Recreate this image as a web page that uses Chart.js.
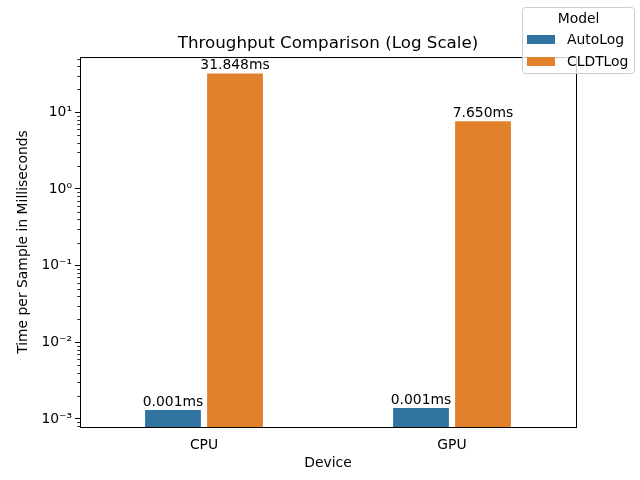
<!DOCTYPE html>
<html>
<head>
<meta charset="utf-8">
<script src="https://cdn.jsdelivr.net/npm/chart.js@4/dist/chart.umd.min.js"></script>
<style>
  html, body { margin: 0; padding: 0; background: #fff; }
  #wrap { width: 640px; height: 480px; }
</style>
</head>
<body>
<div id="wrap"><canvas id="myChart" width="640" height="480"></canvas></div>
<script>
// chart data
var devices = ['CPU', 'GPU'];
var models = ['AutoLog', 'CLDTLog'];
var autoLogTimes = [0.00131, 0.00139];
var cldtLogTimes = [31.848, 7.650];
var majorTicks = [0.001, 0.01, 0.1, 1, 10];
var majorTickLabels = ['10\u207B\u00B3', '10\u207B\u00B2', '10\u207B\u00B9', '10\u2070', '10\u00B9'];
var modelColors = ['#3274a1', '#e1812c'];

var FONT = 'DejaVu Sans';
var yMin = 0.000786, yMax = 52.4;

// top/right spines + minor ticks on log axis
var framePlugin = {
    id: 'frame',
    afterDraw: function(chart) {
        var ctx = chart.ctx, a = chart.chartArea, y = chart.scales.y;
        ctx.save();
        ctx.strokeStyle = '#000';
        ctx.lineWidth = 1;
        ctx.beginPath();
        ctx.moveTo(a.left, a.top + 0.5);
        ctx.lineTo(a.right + 0.5, a.top + 0.5);
        ctx.lineTo(a.right + 0.5, a.bottom);
        ctx.stroke();
        // minor ticks
        ctx.lineWidth = 0.8;
        ctx.beginPath();
        for (var e = -4; e <= 2; e++) {
            for (var m = 2; m <= 9; m++) {
                var v = m * Math.pow(10, e);
                if (v < yMin || v > yMax) continue;
                var py = Math.round(y.getPixelForValue(v)) + 0.5;
                ctx.moveTo(a.left, py);
                ctx.lineTo(a.left - 2.8, py);
            }
        }
        ctx.stroke();
        ctx.restore();
    }
};

// value labels on top of the bars
var barLabelPlugin = {
    id: 'barLabels',
    afterDatasetsDraw: function(chart) {
        var ctx = chart.ctx;
        ctx.save();
        ctx.font = '13.9px "' + FONT + '"';
        ctx.fillStyle = '#000';
        ctx.textAlign = 'center';
        ctx.textBaseline = 'bottom';
        chart.data.datasets.forEach(function(ds, i) {
            chart.getDatasetMeta(i).data.forEach(function(bar, j) {
                ctx.fillText(ds.data[j].toFixed(3) + 'ms', bar.x, bar.y - 1);
            });
        });
        ctx.restore();
    }
};

// legend outside the axes, top right
var legendPlugin = {
    id: 'sideLegend',
    afterDraw: function(chart) {
        var ctx = chart.ctx;
        var x = 522.5, y = 7.5, w = 112, h = 66, r = 3;
        ctx.save();
        ctx.beginPath();
        ctx.roundRect(x, y, w, h, r);
        ctx.fillStyle = 'rgba(255,255,255,0.8)';
        ctx.fill();
        ctx.strokeStyle = '#cccccc';
        ctx.lineWidth = 1;
        ctx.stroke();
        ctx.font = '13.9px "' + FONT + '"';
        ctx.fillStyle = '#000';
        ctx.textBaseline = 'middle';
        ctx.textAlign = 'center';
        ctx.fillText('Model', x + w / 2, 19);
        ctx.textAlign = 'left';
        chart.data.datasets.forEach(function(ds, i) {
            var py = 35 + i * 22;
            ctx.fillStyle = ds.backgroundColor;
            ctx.fillRect(527, py, 28, 9);
            ctx.fillStyle = '#000';
            ctx.fillText(ds.label, 567, py + 5);
        });
        ctx.restore();
    }
};

var ctx = document.getElementById('myChart');

new Chart(ctx, {
    type: 'bar',
    data: {
        labels: devices,
        datasets: [{
            label: models[0],
            data: autoLogTimes,
            backgroundColor: modelColors[0],
            borderWidth: 0
        }, {
            label: models[1],
            data: cldtLogTimes,
            backgroundColor: modelColors[1],
            borderWidth: 0
        }]
    },
    options: {
        responsive: false,
        animation: false,
        layout: { padding: { left: 0, right: 64, top: 0, bottom: 0 } },
        categoryPercentage: 0.5,
        barPercentage: 0.9,
        plugins: {
            legend: { display: false },
            tooltip: { enabled: false },
            title: {
                display: true,
                fullSize: false,
                text: 'Throughput Comparison (Log Scale)',
                color: '#000',
                font: { family: FONT, size: 16.7, weight: 'normal' },
                padding: { top: 34, bottom: 3 }
            }
        },
        scales: {
            x: {
                grid: { display: false, drawTicks: true, tickLength: 5, tickColor: '#000' },
                border: { color: '#000', width: 1 },
                ticks: { color: '#000', font: { family: FONT, size: 13.9 }, padding: 5 },
                title: {
                    display: true,
                    text: 'Device',
                    color: '#000',
                    font: { family: FONT, size: 13.9 },
                    padding: { top: 2, bottom: 8 }
                },
                afterFit: function(scale) { scale.height = 53; }
            },
            y: {
                type: 'logarithmic',
                min: yMin,
                max: yMax,
                grid: { drawOnChartArea: false, drawTicks: true, tickLength: 5, tickColor: '#000' },
                border: { color: '#000', width: 1 },
                afterBuildTicks: function(scale) {
                    scale.ticks = majorTicks.map(function(v) { return { value: v, major: true }; });
                },
                ticks: {
                    color: '#000',
                    font: { family: FONT, size: 13.9 },
                    padding: 3,
                    callback: function(value) {
                        var i = majorTicks.indexOf(value);
                        return i >= 0 ? majorTickLabels[i] : '';
                    }
                },
                title: {
                    display: true,
                    text: 'Time per Sample in Milliseconds',
                    color: '#000',
                    font: { family: FONT, size: 13.9 },
                    padding: { top: 15, bottom: 0 }
                },
                afterFit: function(scale) { scale.width = 80; }
            }
        }
    },
    plugins: [framePlugin, barLabelPlugin, legendPlugin]
});
</script>
</body>
</html>
